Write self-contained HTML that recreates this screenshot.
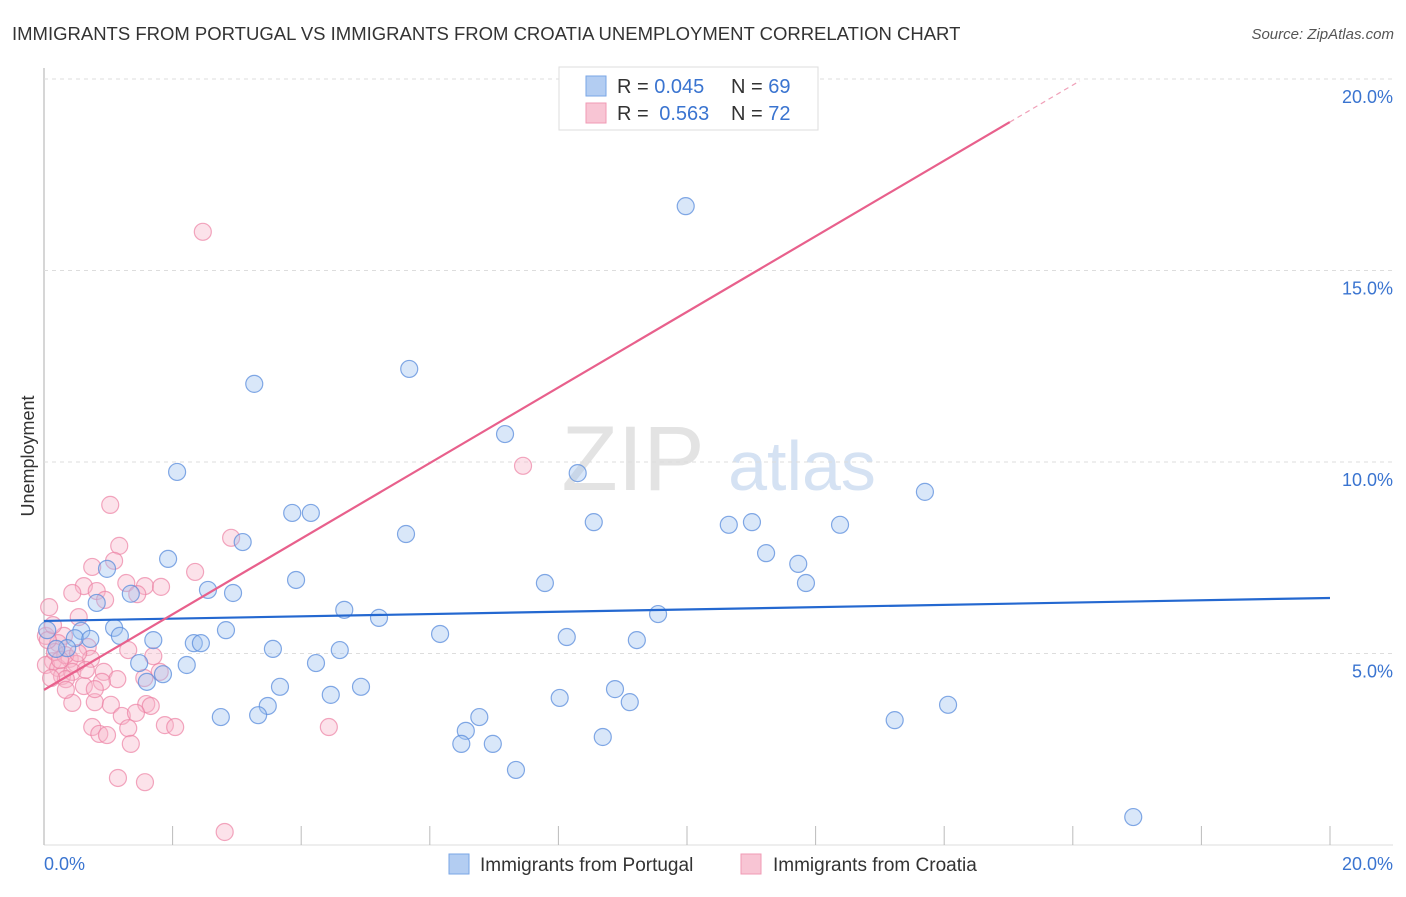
<!DOCTYPE html>
<html><head><meta charset="utf-8"><style>
body{margin:0;background:#fff;font-family:"Liberation Sans",sans-serif}
svg text{font-family:"Liberation Sans",sans-serif}
</style></head><body>
<svg id="c" width="1406" height="892" xmlns="http://www.w3.org/2000/svg">
<text x="12" y="40" font-size="18.5" fill="#333">IMMIGRANTS FROM PORTUGAL VS IMMIGRANTS FROM CROATIA UNEMPLOYMENT CORRELATION CHART</text>
<text x="1394" y="39" font-size="15" fill="#555" font-style="italic" text-anchor="end">Source: ZipAtlas.com</text>
<g><text x="633" y="490" font-size="92" fill="#e3e3e3" font-family="Liberation Serif" text-anchor="middle">ZIP</text><text x="802" y="490" font-size="70" fill="#d5e2f3" text-anchor="middle">atlas</text></g>
<text transform="translate(34,456) rotate(-90)" font-size="18" fill="#333" text-anchor="middle">Unemployment</text>
<g id="grid"></g><g id="pts"></g><g id="lines"></g>
<g>
<rect x="559" y="67" width="259" height="63" fill="#fff" stroke="#ddd"/>
<rect x="586" y="76" width="20" height="20" fill="#b3cdf2" stroke="#7aa6e6"/>
<rect x="586" y="103" width="20" height="20" fill="#f8c5d4" stroke="#f09ab4"/>
<text x="617" y="93" font-size="20" fill="#333">R = <tspan fill="#3a74d0">0.045</tspan></text>
<text x="731" y="93" font-size="20" fill="#333">N = <tspan fill="#3a74d0">69</tspan></text>
<text x="617" y="120" font-size="20" fill="#333">R = <tspan fill="#3a74d0" dx="5">0.563</tspan></text>
<text x="731" y="120" font-size="20" fill="#333">N = <tspan fill="#3a74d0">72</tspan></text>
</g>
<g>
<rect x="449" y="854" width="20" height="20" fill="#b3cdf2" stroke="#7aa6e6"/>
<text x="480" y="871" font-size="19" fill="#333">Immigrants from Portugal</text>
<rect x="741" y="854" width="20" height="20" fill="#f8c5d4" stroke="#f09ab4"/>
<text x="773" y="871" font-size="19" fill="#333">Immigrants from Croatia</text>
</g>
</svg>
<script>
const xTicks=[0,2,4,6,8,10,12,14,16,18,20];
const yTicks=[5,10,15,20];
const blueX=[9.98,5.68,3.27,7.17,2.07,8.30,13.70,3.86,4.15,8.55,10.65,11.01,12.38,5.63,3.09,1.93,11.23,0.98,11.73,3.92,7.79,11.85,2.55,2.94,1.35,0.82,4.67,5.21,9.55,1.09,0.58,1.18,2.83,1.70,6.16,8.13,9.22,2.33,2.44,0.48,0.72,0.36,0.19,3.56,4.60,1.48,4.23,2.22,1.85,1.60,3.67,4.93,4.46,8.88,8.02,9.11,14.06,3.48,2.75,3.33,6.77,13.23,6.56,8.69,6.49,6.98,7.34,16.94,0.05];
const blueY=[16.68,12.43,12.04,10.73,9.74,9.71,9.22,8.67,8.67,8.43,8.36,8.43,8.36,8.12,7.91,7.47,7.62,7.21,7.34,6.92,6.84,6.84,6.66,6.58,6.56,6.32,6.14,5.93,6.03,5.67,5.59,5.46,5.61,5.35,5.51,5.43,5.35,5.27,5.27,5.40,5.38,5.14,5.12,5.12,5.09,4.75,4.75,4.70,4.46,4.26,4.13,4.13,3.92,4.07,3.84,3.73,3.66,3.63,3.34,3.39,3.34,3.26,2.98,2.82,2.64,2.64,1.96,0.73,5.61];
const pinkX=[2.47,7.45,1.03,2.91,1.17,1.09,0.75,2.35,0.62,1.28,1.57,1.82,0.44,1.45,0.08,0.82,0.54,0.03,0.31,0.22,0.68,1.31,1.70,0.40,0.73,0.14,0.50,0.03,0.22,0.28,0.44,0.93,1.80,1.56,0.34,0.11,1.14,0.62,0.90,0.44,0.79,1.04,1.59,1.66,1.21,1.43,1.88,2.04,0.75,1.31,4.43,0.86,0.98,1.35,1.15,1.57,2.81,0.17,0.33,0.06,0.34,0.65,0.79,0.25,0.53,0.14,0.95,10.28];
const pinkY=[16.01,9.90,8.88,8.02,7.81,7.42,7.26,7.13,6.76,6.84,6.76,6.74,6.58,6.55,6.21,6.63,5.95,5.46,5.46,5.27,5.17,5.09,4.93,4.86,4.86,4.80,4.73,4.70,4.62,4.41,4.52,4.52,4.52,4.36,4.33,4.36,4.33,4.15,4.26,3.71,3.73,3.66,3.68,3.63,3.37,3.45,3.13,3.08,3.08,3.05,3.08,2.90,2.87,2.64,1.75,1.64,0.34,5.04,4.96,5.35,4.05,4.57,4.07,4.83,5.01,5.74,6.40,19.45];
const blueTrend=[5.85,0.03];   // intercept, slope
const pinkTrend=[4.05,0.987];
const NS='http://www.w3.org/2000/svg';
const X0=44,X1=1330,Y0=845,YS=38.3;
const sx=v=>X0+(v/20)*(X1-X0);
const sy=v=>Y0-v*YS;
function mk(tag,attrs,parent){const e=document.createElementNS(NS,tag);for(const k in attrs)e.setAttribute(k,attrs[k]);parent.appendChild(e);return e;}
const grid=document.getElementById('grid');
let ax=mk('line',{x1:X0,y1:68,x2:X0,y2:Y0,stroke:'#bbb','stroke-width':1.2},grid);


let bx=mk('line',{x1:X0,y1:Y0,x2:1393,y2:Y0,stroke:'#ddd','stroke-width':1},grid);


yTicks.forEach(t=>{
 const g=mk('line',{x1:X0,y1:sy(t),x2:1393,y2:sy(t),stroke:'#ddd','stroke-dasharray':'4,4'},grid);
 
 
 const l=mk('text',{x:1393,y:sy(t)+24,'font-size':18,fill:'#3a74d0','text-anchor':'end'},grid);
 l.textContent=t.toFixed(1)+'%';
 
 
});
xTicks.forEach(t=>{
 const k=mk('line',{x1:sx(t),y1:826,x2:sx(t),y2:Y0,stroke:'#bbb'},grid);
 
 
});
[[0,'start',44],[20,'end',1393]].forEach(([t,a,x])=>{
 const l=mk('text',{x:x,y:870,'font-size':18,fill:'#3a74d0','text-anchor':a},grid);
 l.textContent=t.toFixed(1)+'%';
 
 
});
const pts=document.getElementById('pts');
pinkX.forEach((v,i)=>{
 const c=mk('circle',{cx:sx(v),cy:sy(pinkY[i]),r:8.5,fill:'rgba(248,182,202,0.4)',stroke:'rgba(236,130,164,0.7)','stroke-width':1.2},pts);
 
 
});
blueX.forEach((v,i)=>{
 const c=mk('circle',{cx:sx(v),cy:sy(blueY[i]),r:8.5,fill:'rgba(160,196,240,0.4)',stroke:'rgba(90,140,220,0.75)','stroke-width':1.2},pts);
 
 
});
const lines=document.getElementById('lines');
let bl=mk('line',{x1:sx(0),y1:sy(blueTrend[0]),x2:sx(20),y2:sy(blueTrend[0]+20*blueTrend[1]),stroke:'#2468d0','stroke-width':2.2},lines);


const xe=15.02, xd=16.11;
let pl=mk('line',{x1:sx(0),y1:sy(pinkTrend[0]),x2:sx(xe),y2:sy(pinkTrend[0]+xe*pinkTrend[1]),stroke:'#e8608c','stroke-width':2.2},lines);


let pd=mk('line',{x1:sx(xe),y1:sy(pinkTrend[0]+xe*pinkTrend[1]),x2:sx(xd),y2:sy(pinkTrend[0]+xd*pinkTrend[1]),stroke:'#f0a0b8','stroke-width':1.2,'stroke-dasharray':'5,4'},lines);


</script>
</body></html>
